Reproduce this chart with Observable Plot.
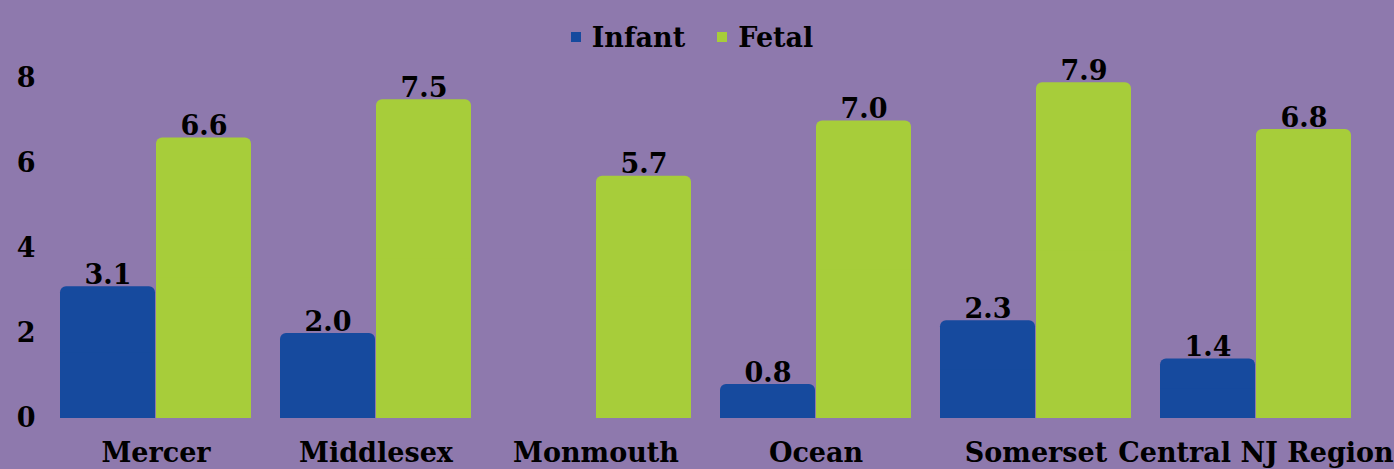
<!DOCTYPE html>
<html><head><meta charset="utf-8">
<script src="https://cdn.jsdelivr.net/npm/d3@7"></script>
<script src="https://cdn.jsdelivr.net/npm/@observablehq/plot@0.6"></script>
<style>
html,body{margin:0;padding:0;background:#8E79AD;width:1394px;height:469px;overflow:hidden;}
#legend{height:60px;display:flex;justify-content:center;align-items:center;font-family:"DejaVu Serif",serif;font-weight:bold;font-size:27px;color:#000;box-sizing:border-box;padding-top:14px;padding-right:10px}
.item{display:flex;align-items:center;margin:0 16px;}
.sw{width:10px;height:10px;margin-right:11px;}
</style></head>
<body>
<div id="legend"></div>
<div id="chart"></div>
<script>
const counties = ["Mercer","Middlesex","Monmouth","Ocean","Somerset","Central NJ Region"];
const series = ["Infant","Fetal"];
const infant = [3.1, 2.0, null, 0.8, 2.3, 1.4];
const fetal = [6.6, 7.5, 5.7, 7.0, 7.9, 6.8];
const yTicks = [0, 2, 4, 6, 8];
const colors = ["#164A9E", "#A7CD3A"];

const data = counties.flatMap((c, i) => [
  {county: c, series: "Infant", value: infant[i]},
  {county: c, series: "Fetal", value: fetal[i]}
]).filter(d => d.value != null);

const legend = document.getElementById("legend");
series.forEach((s, i) => {
  const it = document.createElement("div"); it.className = "item";
  const sw = document.createElement("span"); sw.className = "sw"; sw.style.background = colors[i];
  const t = document.createElement("span"); t.textContent = s;
  it.appendChild(sw); it.appendChild(t); legend.appendChild(it);
});

const font = "DejaVu Serif, serif";
const chart = Plot.plot({
  width: 1394, height: 409,
  marginLeft: 46, marginRight: 28, marginTop: 18, marginBottom: 51,
  style: {background: "transparent", fontFamily: font, fontWeight: "bold", fontSize: "27px", color: "#000", overflow: "visible"},
  fx: {domain: counties, paddingInner: 0.13, paddingOuter: 0.065, label: null},
  x: {domain: series, axis: null, paddingInner: 0.015, paddingOuter: 0},
  y: {domain: [0, 8], label: null},
  color: {domain: series, range: colors},
  marks: [
    Plot.axisY({ticks: yTicks, tickSize: 0, tickPadding: 25, label: null, fontSize: 27, fontWeight: "bold", tickFormat: d => d}),
    Plot.axisFx({anchor: "bottom", tickSize: 0, tickPadding: 24, label: null, fontSize: 27, fontWeight: "bold"}),
    Plot.barY(data, {fx: "county", x: "series", y: "value", fill: "series", rx: 6}),
    Plot.barY(data, {fx: "county", x: "series", y: d => d.value / 2, fill: "series"}),
    Plot.text(data, {fx: "county", x: "series", y: "value", text: d => d.value.toFixed(1), lineAnchor: "bottom", dy: -3, fontSize: 27, fontWeight: "bold", fill: "#000"})
  ]
});
document.getElementById("chart").appendChild(chart);
</script>
</body></html>
